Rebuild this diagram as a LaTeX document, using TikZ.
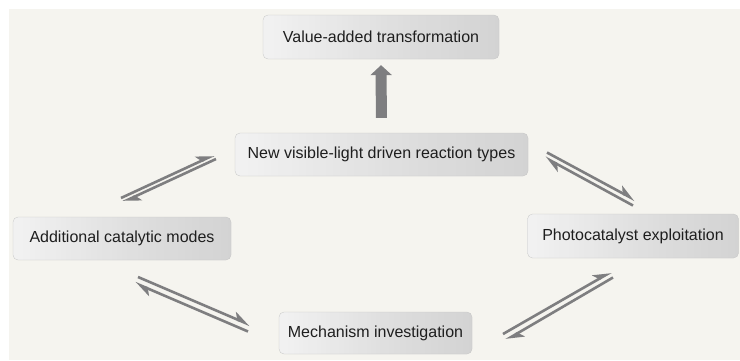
\documentclass[tikz,border=0pt]{standalone}
\usepackage{fontspec}
\setmainfont{Liberation Sans}
\usetikzlibrary{arrows.meta}
\definecolor{bgbeige}{HTML}{F5F4EF}
\definecolor{arrowgray}{HTML}{7E7E80}
\definecolor{txt}{HTML}{1E1E1E}
\pgfdeclarehorizontalshading{boxshade}{100bp}{color(0bp)=(gray!72); color(5bp)=(gray!42); color(16bp)=(gray!10); color(28bp)=(gray!14); color(55bp)=(gray!32); color(80bp)=(gray!44); color(94bp)=(gray!58); color(100bp)=(gray!72)}
\pgfdeclareverticalshading{edgeshade}{100bp}{color(0bp)=(black); color(14bp)=(white); color(86bp)=(white); color(100bp)=(black)}
\tikzset{
  stagebox/.style={rounded corners=5pt, shading=boxshade, draw=gray!45, line width=0.3pt,
    text=txt, font=\fontsize{16}{19}\selectfont, inner sep=0pt, anchor=center,
    path picture={\shade[shading=edgeshade, fill opacity=0.18]
      (path picture bounding box.south west) rectangle (path picture bounding box.north east);}},
  eqarrow/.style={draw=arrowgray, line width=2.6pt,
    -{Stealth[harpoon,length=15pt,width=13pt,inset=4pt]}},
  bigarrow/.style={draw=arrowgray, line width=11pt,
    -{Triangle[length=10pt,width=21pt]}},
}
\begin{document}
\begin{tikzpicture}[x=1pt,y=-1pt]
\useasboundingbox (0,0) rectangle (740,360);
\fill[white] (0,0) rectangle (740,360);
\fill[bgbeige] (9,9) rectangle (740,360);

\node[stagebox, minimum width=236pt, minimum height=44pt] (va) at (381,37) {Value-added transformation};
\node[stagebox, minimum width=293pt, minimum height=43pt] (nv) at (381.5,154.5) {New visible-light driven reaction types};
\node[stagebox, minimum width=218pt, minimum height=43pt] (ac) at (122,238.5) {Additional catalytic modes};
\node[stagebox, minimum width=211pt, minimum height=44pt] (pe) at (633,236) {Photocatalyst exploitation};
\node[stagebox, minimum width=193pt, minimum height=42pt] (mi) at (375.5,333) {Mechanism investigation};

% big arrow
\draw[bigarrow, shorten <=15pt, shorten >=6pt] (nv.north) -- (va.south);

% equilibrium arrow end points
\coordinate (ula) at (121,198); \coordinate (ulb) at (214,155);
\coordinate (ulc) at (216,159); \coordinate (uld) at (123,202);
\coordinate (ura) at (547,152.5); \coordinate (urb) at (635,200);
\coordinate (urc) at (633,205.5); \coordinate (urd) at (545,157.5);
\coordinate (lla) at (138,277); \coordinate (llb) at (250,325);
\coordinate (llc) at (248,331.5); \coordinate (lld) at (135,283);
\coordinate (lra) at (503,334); \coordinate (lrb) at (611,272);
\coordinate (lrc) at (613,277.5); \coordinate (lrd) at (506,340);

\draw[eqarrow] (ula) -- (ulb);
\draw[eqarrow] (ulc) -- (uld);
\draw[eqarrow] (ura) -- (urb);
\draw[eqarrow] (urc) -- (urd);
\draw[eqarrow] (lla) -- (llb);
\draw[eqarrow] (llc) -- (lld);
\draw[eqarrow] (lra) -- (lrb);
\draw[eqarrow] (lrc) -- (lrd);
\end{tikzpicture}
\end{document}
